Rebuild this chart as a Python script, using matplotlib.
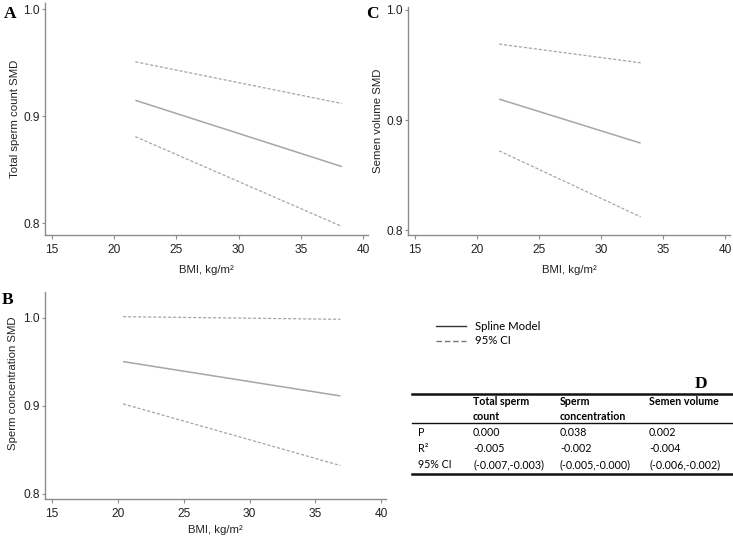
import matplotlib
matplotlib.use("Agg")
import matplotlib.pyplot as plt
from matplotlib.lines import Line2D

plt.rcParams.update({
    "font.family": ["Liberation Sans", "DejaVu Sans"],
    "font.size": 8.6,
    "xtick.labelsize": 8.6,
    "ytick.labelsize": 8.6,
    "axes.labelsize": 8.2,
})

# BMI range and fitted spline / CI values for each panel
bmi_a = [21.7, 38.3]
fit_a = [0.915, 0.853]
upper_a = [0.951, 0.912]
lower_a = [0.881, 0.797]

bmi_b = [20.4, 36.9]
fit_b = [0.950, 0.911]
upper_b = [1.001, 0.998]
lower_b = [0.902, 0.832]

bmi_c = [21.8, 33.2]
fit_c = [0.919, 0.879]
upper_c = [0.969, 0.952]
lower_c = [0.872, 0.812]

x_ticks = [15, 20, 25, 30, 35, 40]
y_ticks = [0.8, 0.9, 1.0]

col_labels = ["", "Total sperm\ncount", "Sperm\nconcentration", "Semen volume"]
row_labels = ["P", "R\u00b2", "95% CI"]
p_values = ["0.000", "0.038", "0.002"]
r2_values = ["-0.005", "-0.002", "-0.004"]
ci_values = ["(-0.007,-0.003)", "(-0.005,-0.000)", "(-0.006,-0.002)"]

W, H = 733, 538
fig = plt.figure(figsize=(W / 100, H / 100), dpi=100)

LINE = "#a6a6a6"
AXIS = "#8c8c8c"
TXT = "#222222"


def px_axes(left, top, right, bottom):
    return fig.add_axes([left / W, 1 - bottom / H, (right - left) / W, (bottom - top) / H])


def panel(ax, x, fit, up, lo, xlim, ylim, ylabel, xlab_y, ylab_x, ylab_y=0.5):
    ax.plot(x, fit, color=LINE, lw=1.1, solid_capstyle="butt")
    ax.plot(x, up, color=LINE, lw=0.9, dashes=(2.5, 1.5))
    ax.plot(x, lo, color=LINE, lw=0.9, dashes=(2.5, 1.5))
    ax.set_xlim(*xlim)
    ax.set_ylim(*ylim)
    ax.set_xticks(x_ticks)
    ax.set_yticks(y_ticks)
    ax.set_yticklabels([f"{v:.1f}" for v in y_ticks])
    ax.set_xlabel("BMI, kg/m\u00b2", color=TXT, va="center")
    ax.set_ylabel(ylabel, color=TXT, va="center")
    ax.xaxis.set_label_coords(0.5, xlab_y)
    ax.yaxis.set_label_coords(ylab_x, ylab_y)
    for s in ["top", "right"]:
        ax.spines[s].set_visible(False)
    for s in ["left", "bottom"]:
        ax.spines[s].set_color(AXIS)
        ax.spines[s].set_linewidth(1.0)
    ax.tick_params(axis="x", colors=AXIS, labelcolor=TXT, length=3, width=0.8, pad=3.5)
    ax.tick_params(axis="y", colors=AXIS, labelcolor=TXT, length=2.5, width=0.8, pad=1.2)


ax_a = px_axes(45, 3, 368, 235)
panel(ax_a, bmi_a, fit_a, upper_a, lower_a, (14.44, 40.4), (0.789, 1.006),
      "Total sperm count SMD", -35 / 232, -30 / 323)

ax_c = px_axes(408, 7, 730, 235)
panel(ax_c, bmi_c, fit_c, upper_c, lower_c, (14.46, 40.4), (0.7955, 1.0027),
      "Semen volume SMD", -35 / 228, -30 / 322)

ax_b = px_axes(45, 292, 386, 499)
panel(ax_b, bmi_b, fit_b, upper_b, lower_b, (14.47, 40.36), (0.794, 1.029),
      "Sperm concentration SMD", -31 / 207, -32 / 341, 0.56)

serif = ["Liberation Serif", "DejaVu Serif"]
for lx, ly, letter in [(10, 14, "A"), (372, 14, "C"), (8, 300, "B"), (701, 384, "D")]:
    fig.text(lx / W, 1 - ly / H, letter, family=serif, weight="bold", size=12.5,
             ha="center", va="center")

# legend
tf = ["Lato", "DejaVu Sans"]
fig.add_artist(Line2D([436 / W, 466 / W], [1 - 326 / H] * 2, color="#333333", lw=1.0))
fig.add_artist(Line2D([436 / W, 466 / W], [1 - 341 / H] * 2, color="#777777", lw=1.0,
                      dashes=(4, 2)))
fig.text(475 / W, 1 - 326 / H, "Spline Model", family=tf, size=8.2, va="center")
fig.text(475 / W, 1 - 341 / H, "95% CI", family=tf, size=8.2, va="center")

# table D
t_left, t_right = 412, 732
fig.add_artist(Line2D([t_left / W, t_right / W], [1 - 394 / H] * 2, color="#111111", lw=1.8))
fig.add_artist(Line2D([t_left / W, t_right / W], [1 - 422.5 / H] * 2, color="#111111", lw=1.0))
fig.add_artist(Line2D([t_left / W, t_right / W], [1 - 474 / H] * 2, color="#111111", lw=1.8))

col_x = [418, 473, 560, 649]
for cx, lab in zip(col_x, col_labels):
    if lab:
        fig.text(cx / W, 1 - 396 / H, lab, family=tf, size=7.7, weight="bold",
                 va="top", linespacing=1.4)

row_y = [433, 449, 465]
rows = [p_values, r2_values, ci_values]
for ry, rl, vals in zip(row_y, row_labels, rows):
    fig.text(col_x[0] / W, 1 - ry / H, rl, family=tf, size=7.7, va="center")
    for cx, v in zip(col_x[1:], vals):
        fig.text(cx / W, 1 - ry / H, v, family=tf, size=7.7, va="center")

fig.savefig("out.png", dpi=100)
